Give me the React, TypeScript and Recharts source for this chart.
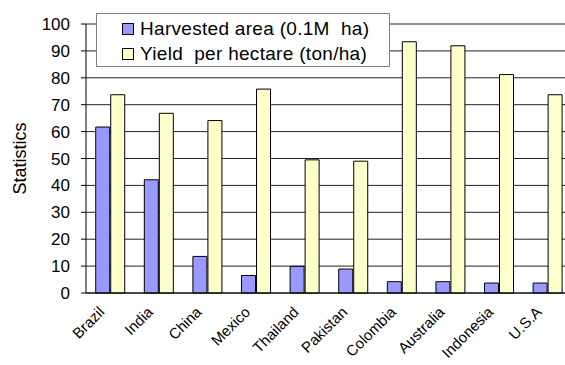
import { BarChart, Bar, XAxis, YAxis, CartesianGrid, Legend } from "recharts"

// values
const countries = ["Brazil", "India", "China", "Mexico", "Thailand", "Pakistan", "Colombia", "Australia", "Indonesia", "U.S.A"]
const harvestedArea = [61.7, 42.1, 13.6, 6.5, 9.9, 8.9, 4.2, 4.2, 3.7, 3.7]
const yieldPerHectare = [73.7, 66.8, 64.1, 75.8, 49.5, 49.0, 93.4, 91.9, 81.2, 73.7]
const yTicks = [0, 10, 20, 30, 40, 50, 60, 70, 80, 90, 100]

const data = countries.map((name, i) => ({
  name,
  area: harvestedArea[i],
  yield: yieldPerHectare[i],
}))

const FONT = "'Liberation Sans', Arial, sans-serif"

const legendItems = [
  { label: "Harvested area (0.1M  ha)", color: "#9999FF" },
  { label: "Yield  per hectare (ton/ha)", color: "#FFFFCC" },
]

function LegendBox() {
  return (
    <div
      style={{
        width: 294,
        height: 54,
        background: "#fff",
        border: "1px solid #808080",
        boxSizing: "border-box",
        fontFamily: FONT,
        fontSize: 19,
        letterSpacing: 0.3,
        color: "#000",
        paddingTop: 3,
      }}
    >
      {legendItems.map((it) => (
        <div key={it.label} style={{ display: "flex", alignItems: "center", height: 24.5, whiteSpace: "pre" }}>
          <span
            style={{
              display: "inline-block",
              width: 10,
              height: 10,
              background: it.color,
              border: "1px solid #000",
              marginLeft: 25,
              marginRight: 6,
            }}
          />
          <span>{it.label}</span>
        </div>
      ))}
    </div>
  )
}

function CountryTick(props: any) {
  const { x, y, payload } = props
  const ax = x - 5
  const ay = y + 12
  return (
    <text
      x={ax}
      y={ay}
      transform={`rotate(-45, ${ax}, ${ay})`}
      textAnchor="end"
      fontFamily={FONT}
      fontSize={15}
      fill="#000"
    >
      {payload.value}
    </text>
  )
}

export default function App() {
  return (
    <div style={{ position: "fixed", left: 0, top: 0, width: 565, height: 365, overflow: "hidden", background: "#fff" }}>
      <BarChart
        width={580}
        height={365}
        data={data}
        margin={{ top: 24, right: 8, bottom: 0, left: 0 }}
        barCategoryGap="20%"
        barGap={1}
      >
        <CartesianGrid vertical={false} stroke="#222" strokeWidth={1} />
        <XAxis
          dataKey="name"
          height={72}
          interval={0}
          tickLine={false}
          axisLine={{ stroke: "#000" }}
          tick={<CountryTick />}
        />
        <YAxis
          width={86}
          domain={[0, 100]}
          ticks={yTicks}
          interval={0}
          tickSize={5}
          tickMargin={11}
          axisLine={{ stroke: "#000" }}
          tickLine={{ stroke: "#000" }}
          tick={{ fill: "#000", fontSize: 17, fontFamily: FONT }}
          label={{
            value: "Statistics",
            angle: -90,
            position: "insideLeft",
            offset: 20,
            style: { fill: "#000", fontSize: 18, fontFamily: FONT, textAnchor: "middle" },
          }}
        />
        <Legend
          layout="horizontal"
          verticalAlign="middle"
          align="center"
          content={<LegendBox />}
          wrapperStyle={{ left: 96, top: 13, width: 294 }}
        />
        <Bar dataKey="area" name="Harvested area (0.1M  ha)" fill="#9999FF" stroke="#000" strokeWidth={1} isAnimationActive={false} />
        <Bar dataKey="yield" name="Yield  per hectare (ton/ha)" fill="#FFFFCC" stroke="#000" strokeWidth={1} isAnimationActive={false} />
      </BarChart>
    </div>
  )
}
